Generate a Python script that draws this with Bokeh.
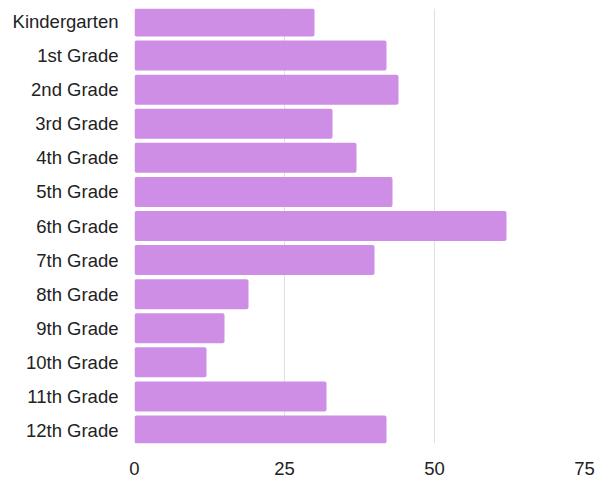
from bokeh.plotting import figure
from bokeh.models import FactorRange, Range1d, FixedTicker, ColumnDataSource
from bokeh.embed import file_html
from bokeh.resources import INLINE

grades = ["Kindergarten", "1st Grade", "2nd Grade", "3rd Grade", "4th Grade",
          "5th Grade", "6th Grade", "7th Grade", "8th Grade", "9th Grade",
          "10th Grade", "11th Grade", "12th Grade"]
values = [30, 42, 44, 33, 37, 43, 62, 40, 19, 15, 12, 32, 42]
x_ticks = [0, 25, 50, 75]

src = ColumnDataSource(dict(grade=grades, value=values))

yr = FactorRange(factors=list(reversed(grades)), range_padding=-0.12,
                 range_padding_units="absolute")
p = figure(width=597, height=477, y_range=yr, x_range=Range1d(0, 75),
           output_backend="svg", toolbar_location=None,
           min_border_left=134, min_border_right=13, min_border_top=8,
           min_border_bottom=31)
p.hbar(y="grade", right="value", left=0, height=0.88, source=src,
       fill_color="#CE8EE6", line_color=None, border_radius=2)

p.outline_line_color = None
p.ygrid.grid_line_color = None
p.xgrid.grid_line_color = "#e0e0e0"
p.xgrid.grid_line_width = 1
p.xaxis.ticker = FixedTicker(ticks=x_ticks)

for ax in (p.xaxis, p.yaxis):
    ax.axis_line_color = None
    ax.major_tick_line_color = None
    ax.minor_tick_line_color = None
    ax.major_label_text_font = "Liberation Sans"
    ax.major_label_text_font_size = "18.5px"
    ax.major_label_text_color = "#222222"
p.yaxis.major_label_standoff = 10
p.xaxis.major_label_standoff = 12

open("out.html", "w").write(file_html(p, INLINE))
